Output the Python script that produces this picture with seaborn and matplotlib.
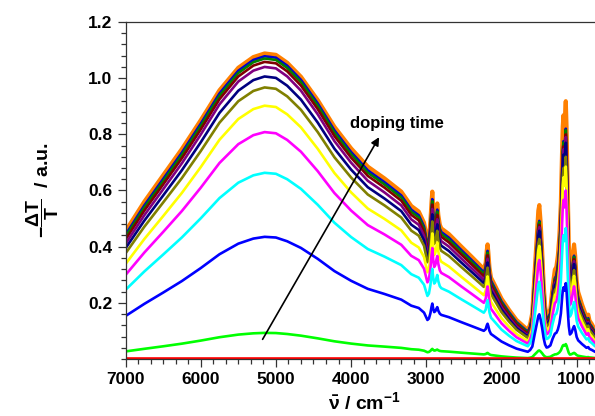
import numpy as np
import matplotlib
matplotlib.use('Agg')
import matplotlib.pyplot as plt
from matplotlib.ticker import MultipleLocator, AutoMinorLocator
import seaborn as sns

# wavenumber grid (cm-1) and the last (longest doped) spectrum,
# split into the broad polaron band and the sharp IR-active peaks on top of it
wavenumber = [7000, 6750, 6500, 6250, 6000, 5750, 5500, 5300, 5150, 5000,
              4850, 4667, 4444, 4222, 4000, 3778, 3556, 3333, 3200, 3100,
              3030, 2985, 2965, 2945, 2930, 2920, 2908, 2895, 2880, 2865,
              2854, 2840, 2820, 2800, 2700, 2533, 2400, 2300, 2235, 2210,
              2195, 2185, 2175, 2160, 2140, 2111, 2000, 1900, 1800, 1700,
              1650, 1620, 1590, 1560, 1530, 1510, 1497, 1480, 1460, 1440,
              1420, 1400, 1380, 1350, 1320, 1290, 1270, 1250, 1230, 1210,
              1195, 1185, 1175, 1165, 1155, 1145, 1135, 1120, 1105, 1090,
              1070, 1050, 1035, 1020, 1000, 980, 956, 930, 900, 870,
              846, 830, 800, 757, 700, 650]
band_top = [0.455, 0.560, 0.654, 0.748, 0.850, 0.957, 1.037, 1.075, 1.088, 1.083,
            1.055, 1.005, 0.922, 0.827, 0.750, 0.685, 0.643, 0.596, 0.545, 0.525,
            0.485, 0.420, 0.425, 0.450, 0.470, 0.475, 0.475, 0.475, 0.475, 0.475,
            0.475, 0.472, 0.468, 0.465, 0.445, 0.400, 0.365, 0.338, 0.320, 0.312,
            0.308, 0.305, 0.300, 0.296, 0.290, 0.275, 0.215, 0.175, 0.139, 0.115,
            0.103, 0.103, 0.104, 0.105, 0.107, 0.108, 0.108, 0.108, 0.108, 0.108,
            0.108, 0.108, 0.108, 0.108, 0.108, 0.108, 0.108, 0.108, 0.108, 0.108,
            0.108, 0.108, 0.108, 0.108, 0.108, 0.108, 0.108, 0.108, 0.108, 0.108,
            0.108, 0.108, 0.108, 0.108, 0.108, 0.108, 0.108, 0.105, 0.103, 0.100,
            0.098, 0.097, 0.095, 0.093, 0.090, 0.088]
peaks_top = [0, 0, 0, 0, 0, 0, 0, 0, 0, 0,
             0, 0, 0, 0, 0, 0, 0, 0, 0, 0,
             0, 0, 0.01, 0.04, 0.09, 0.121, 0.06, 0.02, 0.03, 0.06,
             0.079, 0.04, 0.01, 0, 0, 0, 0, 0, 0, 0.03,
             0.08, 0.103, 0.08, 0.03, 0, 0, 0, 0, 0, 0,
             0, 0.02, 0.06, 0.20, 0.33, 0.42, 0.44, 0.38, 0.28, 0.16,
             0.08, 0.045, 0.05, 0.07, 0.15, 0.21, 0.22, 0.26, 0.33, 0.45,
             0.62, 0.72, 0.76, 0.72, 0.76, 0.81, 0.72, 0.50, 0.30, 0.20,
             0.22, 0.27, 0.30, 0.26, 0.17, 0.13, 0.11, 0.09, 0.07, 0.05,
             0.06, 0.04, 0.03, 0.01, 0, 0]

# one entry per spectrum, shortest to longest doping time
curve_colors = ['#FF0000', '#00FF00', '#0000FF', '#00FFFF', '#FF00FF', '#FFFF00',
                '#808000', '#000080', '#800080', '#800000', '#008000', '#0000CD',
                '#FF8000']
band_max = [0.002, 0.093, 0.435, 0.663, 0.808, 0.902, 0.967, 1.006, 1.040,
            1.058, 1.070, 1.078, 1.088]           # value near 5150 cm-1
band_7000 = [0.002, 0.027, 0.153, 0.246, 0.299, 0.338, 0.376, 0.394, 0.410,
             0.425, 0.435, 0.442, 0.455]          # value at 7000 cm-1
peak_1145 = [0.002, 0.053, 0.270, 0.466, 0.600, 0.685, 0.720, 0.770, 0.790,
             0.800, 0.815, 0.820, 0.918]          # value at ~1145 cm-1

sns.set_style('ticks')
plt.rcParams['font.family'] = ['Liberation Sans', 'DejaVu Sans']
plt.rcParams['font.weight'] = 'bold'
plt.rcParams['text.color'] = 'black'
plt.rcParams['axes.labelcolor'] = 'black'
plt.rcParams['xtick.labelcolor'] = 'black'
plt.rcParams['ytick.labelcolor'] = 'black'
plt.rcParams['mathtext.fontset'] = 'custom'
plt.rcParams['mathtext.rm'] = 'Liberation Sans:bold'
plt.rcParams['mathtext.bf'] = 'Liberation Sans:bold'
plt.rcParams['mathtext.it'] = 'Liberation Sans:bold'
plt.rcParams['mathtext.sf'] = 'Liberation Sans:bold'

wn = np.array(wavenumber)
band = np.array(band_top)
peaks = np.array(peaks_top)
band_rel = band / band.max()
i1145 = wavenumber.index(1145)

fig = plt.figure(figsize=(5.95, 4.16), dpi=100)
ax = fig.add_axes([125.5 / 595, 57 / 416, 477.5 / 595, 337 / 416])

# longest doping time first so the earlier curves sit on its edge
order = list(range(len(curve_colors)))[::-1]
for i in order:
    ratio_edge = band_7000[i] / band_max[i]
    p = np.log(ratio_edge) / np.log(band_rel[0])
    band_part = band_max[i] * band_rel ** p
    b = (peak_1145[i] - band_part[i1145]) / peaks[i1145]
    y = band_part + b * peaks
    lw = 3.0 if i == len(curve_colors) - 1 else 1.9
    sns.lineplot(x=wn, y=y, color=curve_colors[i], lw=lw, ax=ax,
                 sort=False, estimator=None, legend=False)

ax.set_xlim(7000, 650)
ax.set_ylim(0, 1.2)
ax.set_xticks([7000, 6000, 5000, 4000, 3000, 2000, 1000])
ax.xaxis.set_minor_locator(AutoMinorLocator(6))
yt = [0.2, 0.4, 0.6, 0.8, 1.0, 1.2]
ax.set_yticks(yt)
ax.set_yticklabels([f'{v:.1f}' for v in yt])
ax.yaxis.set_minor_locator(MultipleLocator(0.04))
ax.tick_params(which='major', direction='out', length=6, width=0.9,
               labelsize=12.5, color='#333333')
ax.tick_params(which='minor', direction='out', length=3.5, width=0.9,
               color='#333333')
for s in ['left', 'bottom', 'top']:
    ax.spines[s].set_color('#333333')
    ax.spines[s].set_linewidth(0.9)
ax.spines['right'].set_visible(False)

ax.set_xlabel(r'$\bar{\nu}$ / cm$^{-1}$', fontsize=14, fontweight='bold', labelpad=3)
ax.set_ylabel(r'$-\dfrac{\Delta\mathrm{T}}{\mathrm{T}}$  / a.u.', fontsize=14,
              fontweight='bold')
ax.yaxis.set_label_coords(-0.135, 0.5)

ax.annotate('', xy=(3627, 0.79), xytext=(5177, 0.07),
            arrowprops=dict(arrowstyle='-|>', color='black', lw=1.2,
                            mutation_scale=12, shrinkA=0, shrinkB=0))
ax.text(4013, 0.837, 'doping time', fontsize=12, fontweight='bold',
        ha='left', va='center')

fig.savefig('out.png', dpi=100)
